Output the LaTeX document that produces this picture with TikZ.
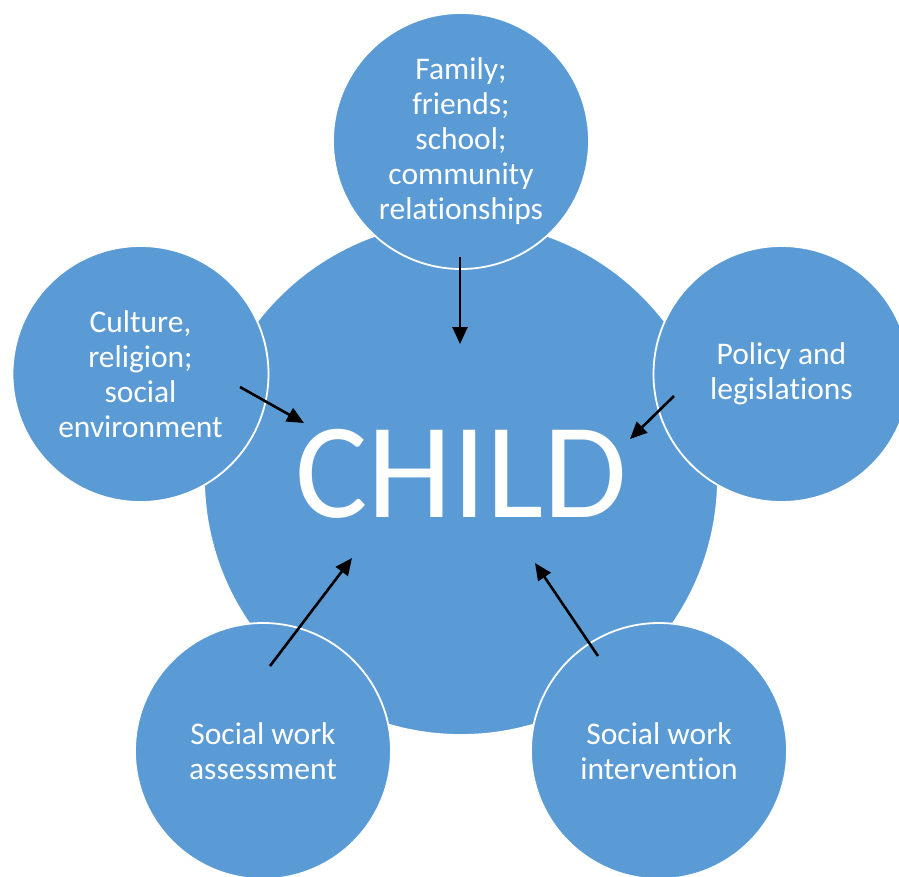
\documentclass[tikz,border=0pt]{standalone}
\usepackage{fontspec}
\setmainfont{Carlito}[RawFeature=-liga]
\usetikzlibrary{arrows.meta}
\definecolor{ringblue}{RGB}{91,155,213}
\tikzstyle{hub}=[circle, fill=ringblue, draw=white, line width=1.8pt, minimum size=514pt, inner sep=0pt]
\tikzstyle{sat}=[circle, fill=ringblue, draw=white, line width=1.8pt, minimum size=256pt, inner sep=0pt, text=white, align=center, font=\fontsize{31.5}{35}\selectfont]
\tikzstyle{hubText}=[inner sep=0pt, text=white, font=\fontsize{136}{136}\selectfont]
\tikzstyle{edge}=[line width=2.6pt, -{Triangle[length=17pt,width=15pt]}]

\begin{document}
\begin{tikzpicture}[x=1pt, y=-1pt]
			\useasboundingbox (0,0) rectangle (899,876);
			\node[hub] (child) at (461,478) {};
			\node[hubText] (childLabel) at (461.5,474) {CHILD};
			\node[sat] (family) at (461,141) {Family;\\friends;\\school;\\community\\relationships};
			\node[sat] (culture) at (140.5,374) {Culture,\\religion;\\social\\environment};
			\node[sat] (policy) at (781.5,374) {Policy and\\legislations};
			\node[sat] (assess) at (263,751) {Social work\\assessment};
			\node[sat] (interv) at (659,751) {Social work\\intervention};
			% arrow ends
			\coordinate (familyTail) at (460,257);
			\coordinate (familyTip) at (460,344);
			\coordinate (cultureTail) at (240,387);
			\coordinate (cultureTip) at (304,423);
			\coordinate (policyTail) at (674,396);
			\coordinate (policyTip) at (630,439);
			\coordinate (assessTail) at (270,666);
			\coordinate (assessTip) at (352,558);
			\coordinate (intervTail) at (598,656);
			\coordinate (intervTip) at (535,563);
			\draw[edge] (familyTail) -- (familyTip);
			\draw[edge] (cultureTail) -- (cultureTip);
			\draw[edge] (policyTail) -- (policyTip);
			\draw[edge] (assessTail) -- (assessTip);
			\draw[edge] (intervTail) -- (intervTip);
		\end{tikzpicture}
\end{document}
